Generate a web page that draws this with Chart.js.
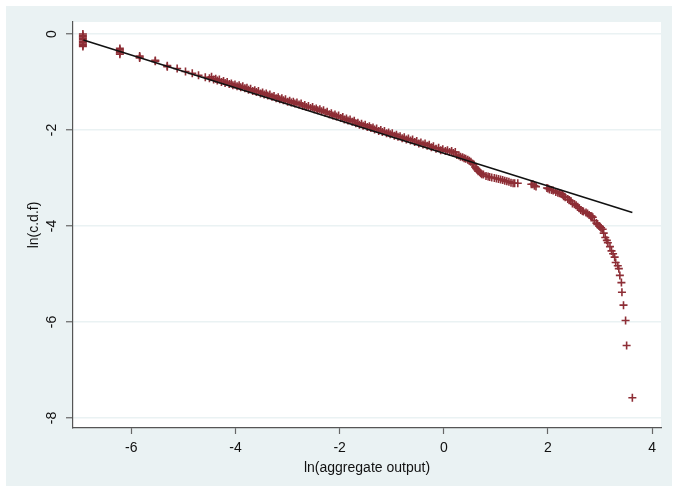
<!DOCTYPE html>
<html>
<head>
<meta charset="utf-8">
<script src="https://cdn.jsdelivr.net/npm/chart.js@4.4.1/dist/chart.umd.min.js"></script>
<style>
  html, body { margin: 0; padding: 0; background: #fff; }
  #wrap { position: relative; width: 674px; height: 492px; }
</style>
</head>
<body>
<div id="wrap"><canvas id="myChart" width="674" height="492"></canvas></div>
<script>
// ln(aggregate output) vs ln(c.d.f)
const obsX = [
  -6.93, -6.93, -6.93, -6.93, -6.93, -6.93, -6.93, -6.93, -6.93, -6.93,
  -6.22, -6.22, -6.22, -6.22, -6.22,
  -5.84, -5.84, -5.84,
  -5.54, -5.54,
  -5.31, -5.31,
  -5.12, -4.96, -4.83, -4.71, -4.58,
  -4.50, -4.42, -4.35, -4.27, -4.20, -4.12, -4.05, -3.97, -3.90, -3.82,
  -3.75, -3.67, -3.60, -3.52, -3.45, -3.38, -3.30, -3.22, -3.15, -3.08,
  -3.00, -2.93, -2.86, -2.78, -2.71, -2.64, -2.56, -2.49, -2.42, -2.35,
  -2.28, -2.20, -2.13, -2.06, -1.98, -1.91, -1.84, -1.76, -1.69, -1.62,
  -1.55, -1.47, -1.40, -1.33, -1.25, -1.18, -1.10, -1.03, -0.95, -0.88,
  -0.80, -0.72, -0.64, -0.56, -0.48, -0.40, -0.32, -0.24, -0.15, -0.06,
  0.03, 0.11, 0.18, 0.25, 0.32, 0.39, 0.46, 0.52, 0.57, 0.62,
  0.66, 0.71, 0.76, 0.81, 0.88, 0.97, 1.05, 1.13, 1.21, 1.29,
  1.36, 1.42, 1.68, 1.71, 1.77, 1.98, 2.03, 2.10, 2.15, 2.22,
  2.28, 2.33, 2.38, 2.44, 2.47, 2.51, 2.57, 2.63, 2.68, 2.73,
  2.76, 2.82, 2.86, 2.89, 2.93, 2.98, 3.02, 3.05, 3.07, 3.10,
  3.13, 3.15, 3.19, 3.22, 3.25, 3.28, 3.30, 3.34, 3.36, 3.38,
  3.41, 3.42, 3.45, 3.49, 3.51, 3.62
];
const obsY = [
  0.00, -0.03, -0.06, -0.09, -0.12, -0.15, -0.18, -0.21, -0.24, -0.26,
  -0.30, -0.33, -0.36, -0.39, -0.42,
  -0.46, -0.48, -0.50,
  -0.55, -0.57,
  -0.66, -0.68,
  -0.72, -0.78, -0.82, -0.86, -0.90,
  -0.92, -0.95, -0.97, -1.00, -1.02, -1.04, -1.07, -1.09, -1.11, -1.13,
  -1.16, -1.19, -1.21, -1.24, -1.26, -1.28, -1.31, -1.34, -1.36, -1.38,
  -1.41, -1.43, -1.45, -1.47, -1.50, -1.52, -1.54, -1.57, -1.59, -1.61,
  -1.64, -1.67, -1.70, -1.72, -1.75, -1.78, -1.80, -1.83, -1.86, -1.89,
  -1.91, -1.94, -1.96, -1.99, -2.02, -2.04, -2.07, -2.09, -2.12, -2.14,
  -2.17, -2.20, -2.22, -2.25, -2.28, -2.30, -2.33, -2.36, -2.39, -2.42,
  -2.44, -2.46, -2.48, -2.52, -2.56, -2.59, -2.62, -2.66, -2.72, -2.80,
  -2.86, -2.90, -2.93, -2.96, -2.98, -3.00, -3.02, -3.04, -3.07, -3.10,
  -3.11, -3.11, -3.13, -3.13, -3.18, -3.21, -3.24, -3.26, -3.29, -3.32,
  -3.35, -3.40, -3.44, -3.48, -3.53, -3.55, -3.60, -3.67, -3.70, -3.72,
  -3.74, -3.79, -3.82, -3.89, -3.94, -4.00, -4.04, -4.07, -4.15, -4.24,
  -4.30, -4.35, -4.43, -4.52, -4.58, -4.65, -4.76, -4.83, -4.89, -5.03,
  -5.18, -5.38, -5.65, -5.97, -6.49, -7.58
];
// extra observations that fill the dense part of the band
const denseX = [
  -4.46, -4.38, -4.31, -4.23, -4.16, -4.08, -4.01, -3.93, -3.86, -3.78,
  -3.71, -3.63, -3.56, -3.48, -3.41, -3.34, -3.26, -3.18, -3.11, -3.04,
  -2.96, -2.89, -2.82, -2.74, -2.67, -2.60, -2.52, -2.45, -2.38, -2.31,
  -2.24, -2.16, -2.09, -2.02, -1.94, -1.87, -1.80, -1.72, -1.65, -1.58,
  -1.51, -1.43, -1.36, -1.29, -1.21, -1.14, -1.06, -0.99, -0.91, -0.84,
  -0.76, -0.68, -0.60, -0.52, -0.44, -0.36, -0.28, -0.20, -0.10, -0.02,
  0.07, 0.15, 0.22, 0.29, 0.36, 0.42, 0.49, 0.55, 0.60, 0.64,
  0.69, 0.73, 0.85, 0.92, 1.01, 1.09, 1.17, 1.25, 1.33, 1.74,
  2.00, 2.07, 2.19, 2.25, 2.30, 2.41, 2.54, 2.60, 2.66, 2.79,
  2.84, 2.95, 3.00
];
const denseY = [
  -0.89, -0.93, -0.95, -0.98, -1.00, -1.03, -1.05, -1.07, -1.09, -1.12,
  -1.14, -1.17, -1.19, -1.22, -1.24, -1.26, -1.29, -1.32, -1.34, -1.36,
  -1.39, -1.41, -1.43, -1.45, -1.48, -1.50, -1.52, -1.55, -1.57, -1.59,
  -1.62, -1.65, -1.68, -1.70, -1.73, -1.76, -1.78, -1.81, -1.85, -1.87,
  -1.89, -1.92, -1.95, -1.97, -2.00, -2.02, -2.05, -2.07, -2.10, -2.13,
  -2.15, -2.18, -2.20, -2.23, -2.26, -2.28, -2.31, -2.34, -2.37, -2.40,
  -2.42, -2.44, -2.46, -2.53, -2.57, -2.60, -2.64, -2.70, -2.77, -2.83,
  -2.88, -2.92, -2.97, -2.99, -3.01, -3.03, -3.06, -3.08, -3.11, -3.16,
  -3.22, -3.25, -3.31, -3.33, -3.38, -3.46, -3.57, -3.63, -3.69, -3.77,
  -3.80, -3.97, -4.02
];
// fitted line end points
const fitX = [-6.92, 3.62];
const fitY = [-0.125, -3.72];

const xTicks = [-6, -4, -2, 0, 2, 4];
const yTicks = [0, -2, -4, -6, -8];

const xTitle = "ln(aggregate output)";
const yTitle = "ln(c.d.f)";

const bgColor = "#eaf2f3";
const markColor = "#8e2e36";
const axisFont = "'Liberation Sans', Arial, sans-serif";

// backgrounds: white frame, light blue page, white plot region
const bgPlugin = {
  id: 'bg',
  beforeDraw(chart) {
    const c = chart.ctx, a = chart.chartArea;
    c.save();
    c.fillStyle = "#fff";
    c.fillRect(0, 0, chart.width, chart.height);
    c.fillStyle = bgColor;
    c.fillRect(6, 6, chart.width - 8, chart.height - 12);
    c.fillStyle = "#fff";
    c.fillRect(a.left, a.top, a.right - a.left, a.bottom - a.top);
    c.restore();
  }
};

// y tick labels are rotated like the original, drawn by hand
const yLabelPlugin = {
  id: 'ylabels',
  afterDraw(chart) {
    const c = chart.ctx, s = chart.scales.y;
    c.save();
    c.fillStyle = "#111";
    c.font = "14px " + axisFont;
    c.textAlign = "center";
    c.textBaseline = "middle";
    s.ticks.forEach(t => {
      const py = s.getPixelForValue(t.value);
      c.save();
      c.translate(52, py);
      c.rotate(-Math.PI / 2);
      c.fillText(String(t.value), 0, 0);
      c.restore();
    });
    c.restore();
  }
};

const pts = obsX.map((x, i) => ({ x: x, y: obsY[i] }))
  .concat(denseX.map((x, i) => ({ x: x, y: denseY[i] })));
const fit = fitX.map((x, i) => ({ x: x, y: fitY[i] }));

const ctx = document.getElementById('myChart');
const myChart = new Chart(ctx, {
  type: 'scatter',
  data: {
    datasets: [{
      type: 'line',
      label: 'fit',
      data: fit,
      borderColor: "#111",
      borderWidth: 1.6,
      pointRadius: 0,
      fill: false
    }, {
      label: 'obs',
      data: pts,
      pointStyle: 'cross',
      pointRadius: 4,
      borderColor: markColor,
      backgroundColor: markColor,
      pointBorderWidth: 1.6
    }]
  },
  options: {
    responsive: false,
    animation: false,
    layout: { padding: { top: 22, right: 13, left: 0, bottom: 0 } },
    plugins: {
      legend: { display: false },
      tooltip: { enabled: false }
    },
    scales: {
      x: {
        type: 'linear',
        min: -7.12,
        max: 4.17,
        afterBuildTicks: s => { s.ticks = xTicks.map(v => ({ value: v })); },
        afterFit: s => { s.height = 64; },
        grid: { drawOnChartArea: false, drawTicks: true, tickLength: 6, tickColor: "#666", tickWidth: 1.2 },
        border: { display: true, color: "#555", width: 1.2 },
        ticks: { color: "#111", font: { family: axisFont, size: 14 }, padding: 6, maxRotation: 0 },
        title: { display: true, text: xTitle, color: "#111", font: { family: axisFont, size: 14 }, padding: { top: 0, bottom: 15 } }
      },
      y: {
        type: 'linear',
        min: -8.21,
        max: 0.25,
        afterBuildTicks: s => { s.ticks = yTicks.map(v => ({ value: v })); },
        afterFit: s => { s.width = 73; },
        grid: { color: bgColor, lineWidth: 1.5, drawTicks: true, tickLength: 7, tickColor: "#666", tickWidth: 1.2 },
        border: { display: true, color: "#555", width: 1.2 },
        ticks: { color: "rgba(0,0,0,0)", font: { family: axisFont, size: 14 } },
        title: { display: true, text: yTitle, color: "#111", font: { family: axisFont, size: 14 }, padding: { top: 26, bottom: 0 } }
      }
    }
  },
  plugins: [bgPlugin, yLabelPlugin]
});
</script>
</body>
</html>
